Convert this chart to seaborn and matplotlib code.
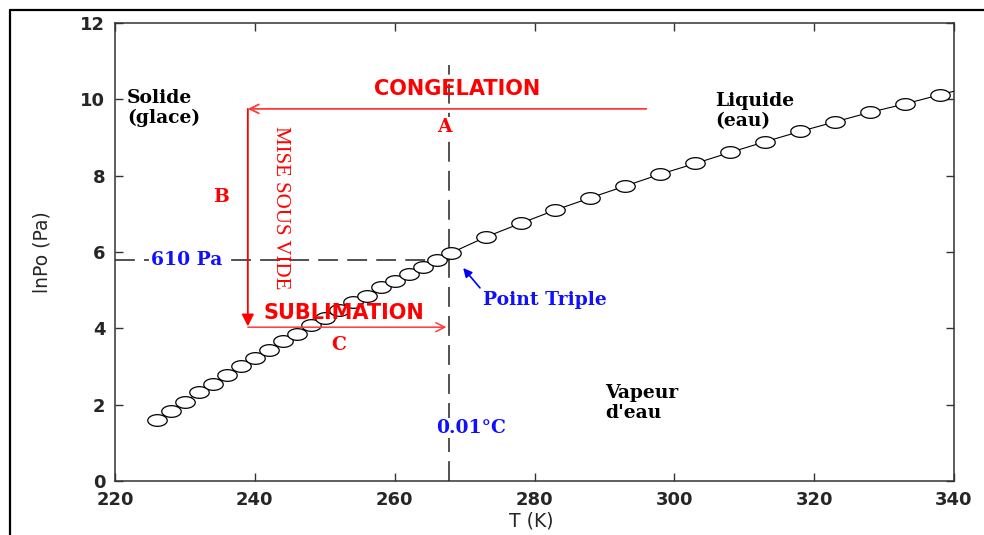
import numpy as np
import pandas as pd
import matplotlib
matplotlib.use("Agg")
import matplotlib.pyplot as plt
from matplotlib.path import Path
from matplotlib.lines import Line2D
import seaborn as sns

# vapour pressure curve of water
t_solid = [226, 228, 230, 232, 234, 236, 238, 240, 242, 244, 246,
           248, 250, 252, 254, 256, 258, 260, 262, 264, 266, 268]
lnp_solid = [1.59, 1.84, 2.07, 2.33, 2.55, 2.79, 3.01, 3.21, 3.44, 3.66, 3.86,
             4.08, 4.28, 4.47, 4.69, 4.86, 5.08, 5.25, 5.43, 5.62, 5.80, 5.97]
t_liquid = [273, 278, 283, 288, 293, 298, 303, 308, 313, 318, 323, 328, 333, 338, 343]
lnp_liquid = [6.39, 6.75, 7.10, 7.42, 7.73, 8.04, 8.32, 8.61, 8.89, 9.16,
              9.41, 9.66, 9.88, 10.12, 10.35]

x_ticks = [220, 240, 260, 280, 300, 320, 340]
y_ticks = [0, 2, 4, 6, 8, 10, 12]

# annotation anchors
T_TRIPLE = 267.8
LNP_610 = 5.79
T_START = 239.0
LNP_HIGH = 9.75
LNP_LOW = 4.05
T_CONG_START = 296.0

df = pd.DataFrame({
    "T": t_solid + t_liquid,
    "lnP": lnp_solid + lnp_liquid,
})

sns.set_style("ticks")
plt.rcParams["font.family"] = ["DejaVu Sans"]

fig = plt.figure(figsize=(9.84, 5.35), dpi=100)
ax = fig.add_axes([115 / 984, 1 - 481 / 535, 839 / 984, 458 / 535])

# elliptical open marker (the original picture is stretched sideways)
theta = np.linspace(0, 2 * np.pi, 64)
ellipse = Path(np.column_stack([np.cos(theta), 0.6 * np.sin(theta)]), closed=True)

# guide lines through the triple point
ax.vlines(T_TRIPLE, 0, 10.9, colors="#222222", linestyles=(0, (13, 6)), lw=1.1, zorder=1)
ax.hlines(LNP_610, 220, T_TRIPLE, colors="#222222", linestyles=(0, (13, 6)), lw=1.1, zorder=1)

sns.lineplot(data=df, x="T", y="lnP", ax=ax, sort=False, estimator=None,
             color="black", lw=0.8, marker=ellipse, markersize=14,
             markerfacecolor="white", markeredgecolor="black",
             markeredgewidth=0.9, zorder=3)

# red process arrows
red_line = "#ff3a3a"
ax.annotate("", xy=(T_START, LNP_HIGH), xytext=(T_CONG_START, LNP_HIGH),
            arrowprops=dict(arrowstyle="->", color=red_line, lw=1.3,
                            mutation_scale=16, shrinkA=0, shrinkB=0))
ax.annotate("", xy=(T_START, LNP_LOW), xytext=(T_START, LNP_HIGH),
            arrowprops=dict(arrowstyle="-|>", color="red", lw=1.3,
                            mutation_scale=18, shrinkA=0, shrinkB=0))
ax.annotate("", xy=(T_TRIPLE - 0.4, LNP_LOW - 0.02), xytext=(T_START, LNP_LOW - 0.02),
            arrowprops=dict(arrowstyle="->", color=red_line, lw=1.1,
                            mutation_scale=16, shrinkA=0, shrinkB=0))

# blue pointer to the triple point
ax.annotate("", xy=(269.8, 5.58), xytext=(272.2, 5.06),
            arrowprops=dict(arrowstyle="-|>", color="blue", lw=1.2,
                            mutation_scale=13, shrinkA=0, shrinkB=0))

serif_b = dict(family="DejaVu Serif", fontweight="bold", fontsize=13.5)
ax.text(221.7, 9.77, "Solide\n(glace)", ha="left", va="center",
        linespacing=1.15, color="black", **serif_b)
ax.text(305.8, 9.69, "Liquide\n(eau)", ha="left", va="center",
        linespacing=1.15, color="black", **serif_b)
ax.text(290.1, 2.04, "Vapeur\nd'eau", ha="left", va="center",
        linespacing=1.1, color="black", **serif_b)

ax.text(230.2, LNP_610, "610 Pa", ha="center", va="center", color="#1010ff",
        bbox=dict(facecolor="white", edgecolor="none", pad=1), zorder=2, **serif_b)
ax.text(272.6, 4.74, "Point Triple", ha="left", va="center", color="#1010ff", **serif_b)
ax.text(270.9, 1.39, "0.01\u00b0C", ha="center", va="center", color="#1010ff",
        bbox=dict(facecolor="white", edgecolor="none", pad=0.5), **serif_b)

ax.text(268.9, 10.27, "CONGELATION", ha="center", va="center", color="red",
        family="DejaVu Sans", fontweight="bold", fontsize=15)
ax.text(252.8, 4.40, "SUBLIMATION", ha="center", va="center", color="red",
        family="DejaVu Sans", fontweight="bold", fontsize=15, zorder=4)
ax.text(267.1, 9.27, "A", ha="center", va="center", color="red",
        bbox=dict(facecolor="white", edgecolor="none", pad=0.5), **serif_b)
ax.text(235.2, 7.44, "B", ha="center", va="center", color="red", **serif_b)
ax.text(252.0, 3.56, "C", ha="center", va="center", color="red", **serif_b)
ax.text(243.6, 7.15, "MISE SOUS VIDE", rotation=-90, ha="center", va="center",
        color="red", family="Liberation Serif", fontsize=15)

ax.set_xlim(220, 340)
ax.set_ylim(0, 12)
ax.set_xticks(x_ticks)
ax.set_yticks(y_ticks)
ax.tick_params(direction="in", top=True, right=True, length=6, width=1,
               color="#333333", pad=7, labelsize=13)
for lab in ax.get_xticklabels() + ax.get_yticklabels():
    lab.set_fontweight("bold")
for sp in ax.spines.values():
    sp.set_visible(True)
    sp.set_color("#333333")
    sp.set_linewidth(1.1)

ax.set_xlabel("T (K)", fontsize=13.5, va="center")
ax.set_ylabel("lnPo (Pa)", fontsize=13.5, va="center")
ax.xaxis.set_label_coords(0.496, -0.088)
ax.yaxis.set_label_coords(-0.087, 0.5)

# outer frame of the picture (top and left edges only)
fig.add_artist(Line2D([10 / 984, 1], [1 - 10 / 535, 1 - 10 / 535], color="black", lw=1.6))
fig.add_artist(Line2D([10 / 984, 10 / 984], [0, 1 - 10 / 535], color="black", lw=1.6))

fig.savefig("out.png", dpi=100)
plt.close(fig)
